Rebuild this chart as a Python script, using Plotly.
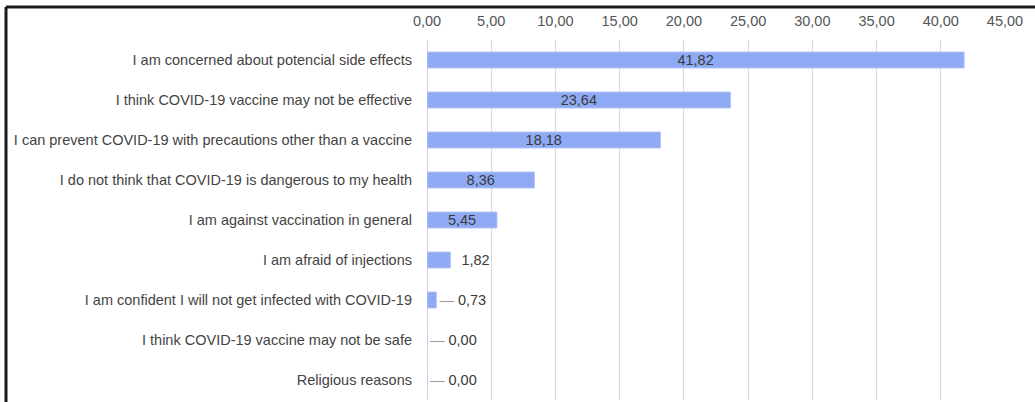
import plotly.graph_objects as go

categories = [
    "I am concerned about potencial side effects",
    "I think COVID-19 vaccine may not be effective",
    "I can prevent COVID-19 with precautions other than a vaccine",
    "I do not think that COVID-19 is dangerous to my health",
    "I am against vaccination in general",
    "I am afraid of injections",
    "I am confident I will not get infected with COVID-19",
    "I think COVID-19 vaccine may not be safe",
    "Religious reasons",
]
values = [41.82, 23.64, 18.18, 8.36, 5.45, 1.82, 0.73, 0.00, 0.00]
tick_vals = [0, 5, 10, 15, 20, 25, 30, 35, 40, 45]

W, H = 1035, 402
ML, MR, MT, MB = 427, 30, 40, 2
FS = 14.5
FONT = "Liberation Sans, Arial, sans-serif"

def fmt(v):
    return f"{v:.2f}".replace(".", ",")

texts = []
positions = []
for v in values:
    if v >= 5:
        texts.append(fmt(v))
        positions.append("inside")
    elif v >= 1:
        texts.append("&nbsp;&nbsp;" + fmt(v))
        positions.append("outside")
    else:
        texts.append("<span style='color:#9a9a9a'>—</span>&nbsp;" + fmt(v))
        positions.append("outside")

fig = go.Figure(go.Bar(
    x=values, y=categories, orientation="h",
    marker=dict(color="#8eaaf4", line=dict(color="#b4c7f7", width=1)),
    width=0.4,
    text=texts, textposition=positions, insidetextanchor="middle",
    textfont=dict(family=FONT, size=FS, color="#3a3a3a"),
    cliponaxis=False,
))

pw = W - ML - MR
ph = H - MT - MB
# frame lines (top and left) drawn in paper coordinates
x_left = (6 - ML) / pw
y_top = 1 + (MT - 7) / ph
y_bot = 1 - (H + 5 - MT) / ph
x_right = 1 + (MR + 5) / pw

fig.update_layout(
    width=W, height=H,
    margin=dict(l=ML, r=MR, t=MT, b=MB, autoexpand=False),
    paper_bgcolor="white", plot_bgcolor="white",
    separators=",.",
    showlegend=False,
    uniformtext=dict(minsize=FS, mode="show"),
    font=dict(family=FONT, size=FS, color="#444"),
    xaxis=dict(
        side="top", range=[0, 45], tickvals=tick_vals, tickformat=".2f",
        showgrid=True, gridcolor="#d9d9d9", gridwidth=1,
        zeroline=True, zerolinecolor="#d9d9d9", zerolinewidth=1,
        showline=False, ticks="", ticklabelstandoff=10,
        tickfont=dict(size=FS, color="#555"), automargin=False,
    ),
    yaxis=dict(
        autorange="reversed", showgrid=False, zeroline=False, showline=False,
        ticks="", ticklabelstandoff=14, tickfont=dict(size=FS, color="#444"),
        automargin=False,
    ),
    shapes=[
        dict(type="line", xref="paper", yref="paper", x0=x_left, x1=x_right,
             y0=y_top, y1=y_top, line=dict(color="#1a1a1a", width=3)),
        dict(type="line", xref="paper", yref="paper", x0=x_left, x1=x_left,
             y0=y_top, y1=y_bot, line=dict(color="#1a1a1a", width=3)),
    ],
)

fig.write_html("out.html", config={"displayModeBar": False},
               post_script="document.body.style.margin='0';")
